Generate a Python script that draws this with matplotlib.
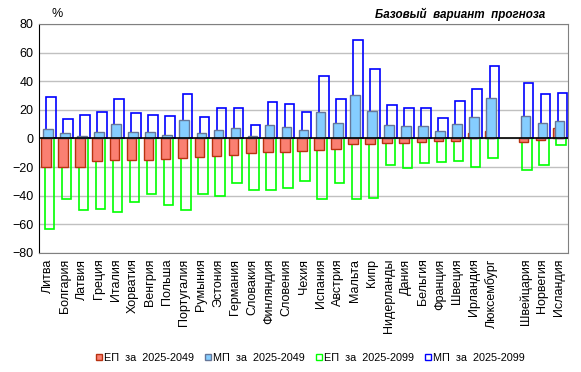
import numpy as np
import matplotlib.pyplot as plt
from matplotlib.patches import Patch

plt.rcParams['font.family'] = ['Liberation Sans', 'DejaVu Sans']

# Данные (пустая строка - разрыв между ЕС и остальными)
countries = ['Литва', 'Болгария', 'Латвия', 'Греция', 'Италия', 'Хорватия', 'Венгрия',
             'Польша', 'Португалия', 'Румыния', 'Эстония', 'Германия', 'Словакия',
             'Финляндия', 'Словения', 'Чехия', 'Испания', 'Австрия', 'Мальта', 'Кипр',
             'Нидерланды', 'Дания', 'Бельгия', 'Франция', 'Швеция', 'Ирландия',
             'Люксембург', '', 'Швейцария', 'Норвегия', 'Исландия']
ep_2049 = [-20, -19.6, -19.6, -16, -15.3, -15.3, -15.3, -14.6, -13.9, -13.2, -12.5, -11.8,
           -10.4, -9.7, -9.7, -9, -8.3, -7.6, -4.1, -4.1, -3.4, -3.4, -2.7, -2, -2, 3.6,
           5.2, np.nan, -2.7, -0.8, 7.5]
mp_2049 = [6.4, 3.6, 1.5, 4.3, 9.9, 4.3, 4.3, 2.2, 12.7, 3.6, 5.7, 7.1, 1.5, 9.2, 7.8,
           5.7, 18.3, 10.6, 30.2, 19, 9.2, 8.5, 8.5, 5.0, 9.9, 14.8, 28.1, np.nan, 15.5,
           10.6, 12.2]
ep_2099 = [-63, -42, -50.2, -49, -51.6, -44.6, -39, -46.7, -50.2, -39, -40.4, -31.3,
           -36.2, -36.2, -34.8, -29.9, -42.5, -31.3, -42.5, -41.8, -18.5, -20.8, -17.3,
           -16.6, -15.9, -20.1, -13.8, np.nan, -22.2, -18.7, -4.8]
mp_2099 = [28.8, 13.6, 16.2, 18.3, 27.4, 17.6, 16.2, 15.5, 30.9, 14.8, 21.1, 21.1, 9.2,
           25.3, 23.9, 18.3, 43.5, 27.4, 68.6, 48.4, 23.2, 21.1, 21.1, 14.1, 26, 34.4,
           50.4, np.nan, 38.6, 30.9, 31.6]

x = np.arange(len(countries))
w = 0.56

fig = plt.figure(figsize=(5.81, 3.72), dpi=100)
ax = fig.add_axes([0.0676, 0.32, 0.91, 0.6155])

# контурные столбцы (2025-2099)
ax.bar(x + 0.09, ep_2099, w, facecolor='none', edgecolor='#00ff00', linewidth=1.2, zorder=2)
ax.bar(x + 0.18, mp_2099, w, facecolor='none', edgecolor='#0000ff', linewidth=1.2, zorder=2)
# заполненные столбцы (2025-2049)
ax.bar(x - 0.1, ep_2049, w, facecolor='#fa8072', edgecolor='#b83210', linewidth=1, zorder=3)
ax.bar(x, mp_2049, w, facecolor='#85cdff', edgecolor='#667799', linewidth=1, zorder=3)

ax.axhline(0, color='black', linewidth=1.2, zorder=4)
ax.set_ylim(-80, 80)
ax.set_xlim(-0.5, len(countries) - 0.5)
ax.set_yticks(np.arange(-80, 81, 20))
ax.yaxis.grid(True, color='#c0c0c0', linewidth=1)
ax.set_axisbelow(True)
ax.tick_params(axis='y', length=0, labelsize=9, pad=4)
ax.set_xticks(x)
ax.set_xticklabels(countries, rotation=90, fontsize=9)
ax.tick_params(axis='x', length=0, pad=4)

for s in ['top', 'right']:
    ax.spines[s].set_color('#808080')
ax.spines['left'].set_color('black')
ax.spines['bottom'].set_color('#808080')

fig.text(0.098, 1 - 14 / 372, '%', ha='center', va='center', fontsize=9)
fig.text(0.938, 1 - 14 / 372, 'Базовый  вариант  прогноза', ha='right', va='center',
         fontsize=8.4, fontweight='bold', style='italic')

handles = [Patch(facecolor='#fa8072', edgecolor='#b83210'),
           Patch(facecolor='#85cdff', edgecolor='#667799'),
           Patch(facecolor='white', edgecolor='#00ff00'),
           Patch(facecolor='white', edgecolor='#0000ff')]
labels = ['ЕП  за  2025-2049', 'МП  за  2025-2049', 'ЕП  за  2025-2099', 'МП  за  2025-2099']
fig.legend(handles, labels, loc='center', bbox_to_anchor=(0.534, 1 - 358 / 372), ncol=4,
           frameon=False, fontsize=7.8, handlelength=0.55, handleheight=0.55,
           handletextpad=0.2, columnspacing=1.0)

fig.savefig('out.png', dpi=100)
